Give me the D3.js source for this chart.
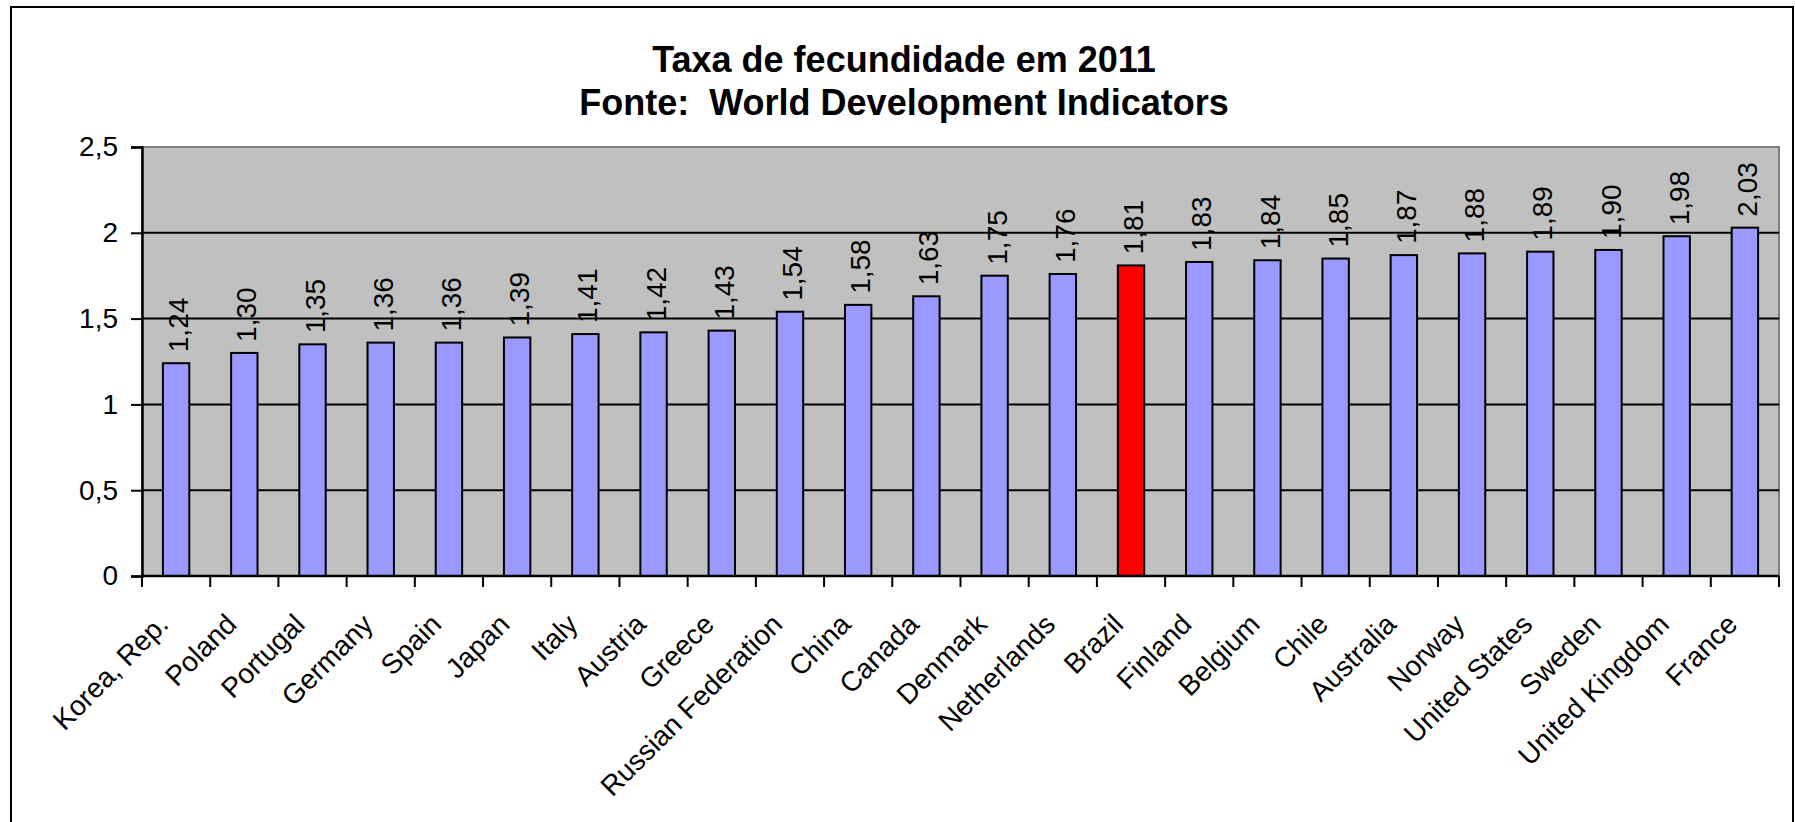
<!DOCTYPE html>
<html>
<head>
<meta charset="utf-8">
<script src="https://cdn.jsdelivr.net/npm/d3@7"></script>
<style>
body { margin: 0; background: #fff; }
text { font-family: "Liberation Sans", Arial, sans-serif; }
</style>
</head>
<body>
<div id="chart"></div>
<script>
var countries = ['Korea, Rep.', 'Poland', 'Portugal', 'Germany', 'Spain', 'Japan', 'Italy', 'Austria', 'Greece',
    'Russian Federation', 'China', 'Canada', 'Denmark', 'Netherlands', 'Brazil', 'Finland', 'Belgium', 'Chile',
    'Australia', 'Norway', 'United States', 'Sweden', 'United Kingdom', 'France'];
var fertility = [1.24, 1.30, 1.35, 1.36, 1.36, 1.39, 1.41, 1.42, 1.43, 1.54, 1.58, 1.63, 1.75, 1.76, 1.81,
    1.83, 1.84, 1.85, 1.87, 1.88, 1.89, 1.90, 1.98, 2.03];
var yTicks = [0, 0.5, 1, 1.5, 2, 2.5];
var highlight = 'Brazil';
var titleLines = ['Taxa de fecundidade em 2011', 'Fonte:  World Development Indicators'];

var width = 1795;
var height = 822;

var plot = {left: 142, right: 1779, top: 147, bottom: 576};

var comma = function (v) {
    return String(v).replace('.', ',');
};
var fmt2 = d3.format('.2f');

var x = d3.scaleBand()
    .domain(countries)
    .range([plot.left, plot.right])
    .padding(0);

var y = d3.scaleLinear()
    .domain([0, 2.5])
    .range([plot.bottom, plot.top]);

var barW = x.bandwidth() * 0.387;

var svg = d3.select('#chart').append('svg')
    .attr('width', width)
    .attr('height', height);

// outer chart border (bottom edge runs off the picture)
svg.append('rect')
    .attr('x', 11).attr('y', 7)
    .attr('width', 1782).attr('height', 900)
    .attr('fill', '#fff')
    .attr('stroke', '#000')
    .attr('stroke-width', 2);

// title
svg.selectAll('.title')
    .data(titleLines)
    .enter().append('text')
    .attr('class', 'title')
    .attr('x', 904)
    .attr('y', function (d, i) { return 72 + i * 43; })
    .attr('text-anchor', 'middle')
    .attr('font-size', 36)
    .attr('font-weight', 'bold')
    .attr('xml:space', 'preserve')
    .style('white-space', 'pre')
    .text(function (d) { return d; });

// plot area
svg.append('rect')
    .attr('x', plot.left).attr('y', plot.top)
    .attr('width', plot.right - plot.left)
    .attr('height', plot.bottom - plot.top)
    .attr('fill', '#c0c0c0')
    .attr('stroke', '#808080')
    .attr('stroke-width', 2);

// gridlines
svg.append('g')
    .selectAll('line')
    .data(yTicks.filter(function (d) { return d > 0 && d < 2.5; }))
    .enter().append('line')
    .attr('x1', plot.left).attr('x2', plot.right)
    .attr('y1', function (d) { return y(d); })
    .attr('y2', function (d) { return y(d); })
    .attr('stroke', '#000')
    .attr('stroke-width', 2);

// bars
svg.append('g')
    .selectAll('rect')
    .data(fertility)
    .enter().append('rect')
    .attr('x', function (d, i) { return x(countries[i]) + (x.bandwidth() - barW) / 2; })
    .attr('y', function (d) { return y(d); })
    .attr('width', barW)
    .attr('height', function (d) { return y(0) - y(d); })
    .attr('fill', function (d, i) { return countries[i] === highlight ? '#ff0000' : '#9999ff'; })
    .attr('stroke', '#000')
    .attr('stroke-width', 2);

// value labels
svg.append('g')
    .selectAll('text')
    .data(fertility)
    .enter().append('text')
    .attr('transform', function (d, i) {
        return 'translate(' + (x(countries[i]) + x.bandwidth() / 2 + 2) + ',' + (y(d) - 11) + ') rotate(-90)';
    })
    .attr('dy', '0.36em')
    .attr('font-size', 28)
    .text(function (d) { return fmt2(d).replace('.', ','); });

// y axis
var yAxis = d3.axisLeft(y)
    .tickValues(yTicks)
    .tickSize(11)
    .tickPadding(13)
    .tickFormat(comma);

var yG = svg.append('g')
    .attr('transform', 'translate(' + plot.left + ',0)')
    .call(yAxis);
yG.select('.domain').attr('stroke', '#000').attr('stroke-width', 2.5);
yG.selectAll('.tick line').attr('stroke', '#000').attr('stroke-width', 2);
yG.selectAll('.tick text')
    .attr('font-size', 28)
    .attr('font-family', '"Liberation Sans", Arial, sans-serif')
    .attr('fill', '#000');

// x axis: ticks on category boundaries
var xG = svg.append('g');
xG.append('line')
    .attr('x1', plot.left).attr('x2', plot.right)
    .attr('y1', plot.bottom).attr('y2', plot.bottom)
    .attr('stroke', '#000')
    .attr('stroke-width', 2.5);
xG.selectAll('.xtick')
    .data(countries.concat(['end']))
    .enter().append('line')
    .attr('class', 'xtick')
    .attr('x1', function (d, i) { return i < countries.length ? x(d) : plot.right; })
    .attr('x2', function (d, i) { return i < countries.length ? x(d) : plot.right; })
    .attr('y1', plot.bottom)
    .attr('y2', plot.bottom + 11)
    .attr('stroke', '#000')
    .attr('stroke-width', 2);

xG.selectAll('.xlabel')
    .data(countries)
    .enter().append('text')
    .attr('class', 'xlabel')
    .attr('transform', function (d) {
        return 'translate(' + (x(d) + x.bandwidth() / 2 - 6) + ',' + (plot.bottom + 50) + ') rotate(-45)';
    })
    .attr('text-anchor', 'end')
    .attr('font-size', 28)
    .text(function (d) { return d; });
</script>
</body>
</html>
